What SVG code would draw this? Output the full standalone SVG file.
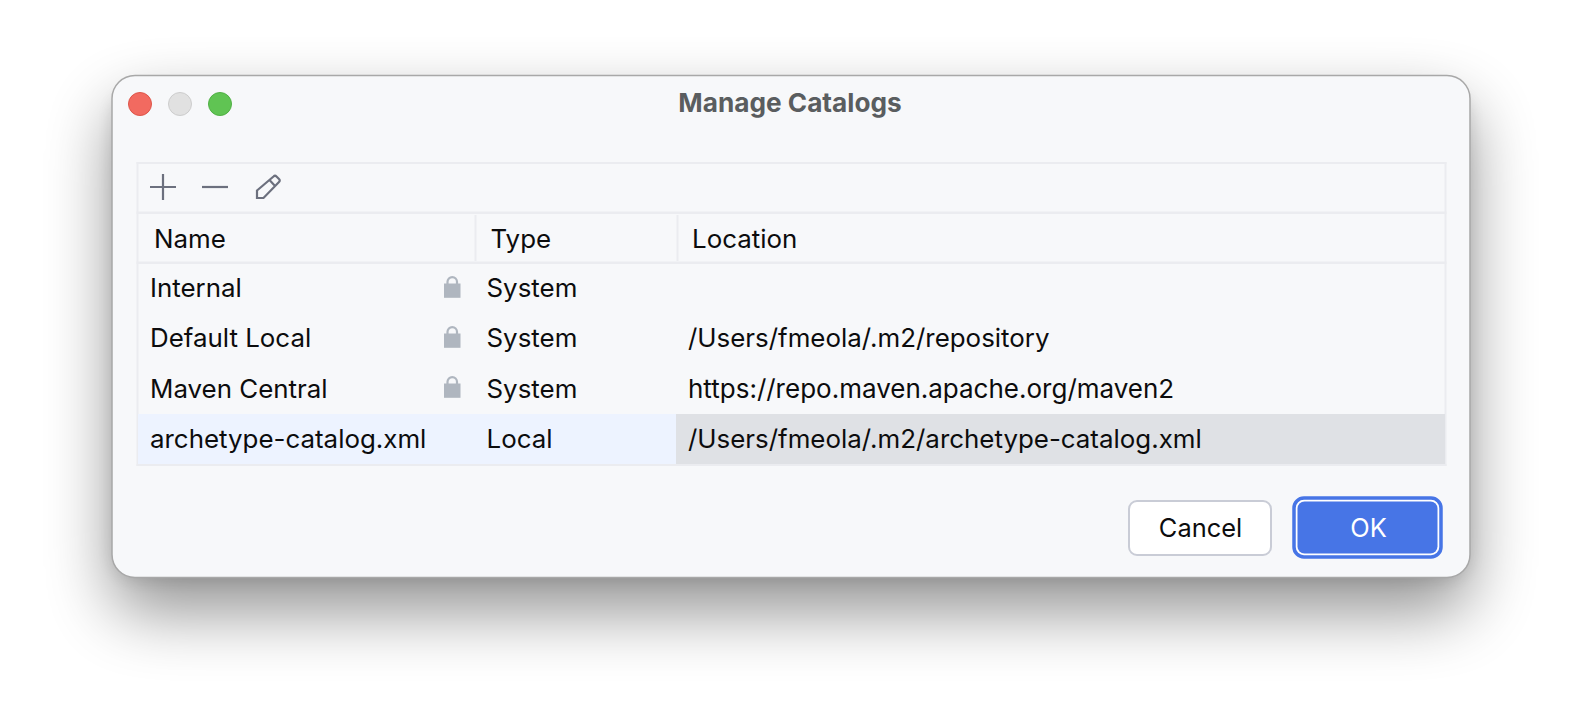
<svg xmlns="http://www.w3.org/2000/svg" width="1582" height="726" viewBox="0 0 1582 726">
<style>
text{font-family:Inter,"Liberation Sans",sans-serif;font-size:25.900px;fill:#0c0c0d}
.sep{fill:#ebecf0}
.ic{fill:none;stroke:#6c707e;stroke-width:2.200}
.lock{fill:#afb6bf}
.lk{fill:none;stroke:#afb6bf;stroke-width:2.200}
</style>
<defs>
<filter id="sh" x="-15%" y="-30%" width="130%" height="170%"><feGaussianBlur stdDeviation="33"/></filter>
<filter id="sh2" x="-5%" y="-10%" width="110%" height="120%"><feGaussianBlur stdDeviation="8"/></filter>
<g id="lockI"><path class="lk" d="M3.500 9V5.800a4.750 4.750 0 0 1 9.500 0V9"/><rect class="lock" x="0" y="7.500" width="16.500" height="14.300"/></g>
</defs>
<rect width="1582" height="726" fill="#ffffff"/>
<rect x="112" y="106" width="1358" height="506" rx="30" fill="#000" opacity=".42" filter="url(#sh)"/>
<rect x="112" y="90" width="1358" height="490" rx="24" fill="#000" opacity=".1" filter="url(#sh2)"/>
<g id="window">
<rect x="112" y="75.500" width="1358" height="502" rx="23" fill="#f7f8fa" stroke="#a8a8a8" stroke-width="1.500"/>
<circle cx="140" cy="104" r="11.500" fill="#f26a60" stroke="#de5549"/>
<circle cx="180" cy="104" r="11.500" fill="#e1e1e1" stroke="#cdcdcd"/>
<circle cx="220" cy="104" r="11.500" fill="#60c453" stroke="#50b044"/>
<text x="790" y="111.500" text-anchor="middle" style="font-weight:700;fill:#5a5d5f;font-size:26.200px">Manage Catalogs</text>
</g>
<g id="table">
<rect x="136.500" y="162" width="1310" height="2" class="sep"/>
<rect x="136.500" y="211.500" width="1310" height="2.500" class="sep"/>
<rect x="136.500" y="261.500" width="1310" height="2.500" class="sep"/>
<rect x="136.500" y="162" width="2" height="304" class="sep"/>
<rect x="1444.500" y="162" width="2" height="304" class="sep"/>
<rect x="474.500" y="215" width="2" height="46" class="sep"/>
<rect x="676.500" y="215" width="2" height="46" class="sep"/>
<rect x="138" y="414" width="538" height="50" fill="#edf3ff"/>
<rect x="676" y="414" width="769" height="50" fill="#dfe1e5"/>
<rect x="136.500" y="464" width="1310" height="2" class="sep"/>
</g>
<g id="toolbar">
<path class="ic" d="M150 187H176M163 174V200"/>
<path class="ic" d="M202 187H228"/>
<path class="ic" d="M257 190.500L273.500 176.500Q275 175 276.500 176.500L279 179Q280.500 180.500 279 182L263.500 198H257ZM269.500 180L275.500 186.500"/>
</g>
<g id="headers">
<text x="154" y="247.700">Name</text>
<text x="490.500" y="247.700">Type</text>
<text x="692" y="247.700">Location</text>
</g>
<g id="row1">
<text x="150" y="297.300">Internal</text>
<use href="#lockI" x="444" y="276"/>
<text x="486.500" y="297.300">System</text>
</g>
<g id="row2">
<text x="150" y="347.300">Default Local</text>
<use href="#lockI" x="444" y="326"/>
<text x="486.500" y="347.300">System</text>
<text x="688" y="347.300">/Users/fmeola/.m2/repository</text>
</g>
<g id="row3">
<text x="150" y="397.800">Maven Central</text>
<use href="#lockI" x="444" y="376"/>
<text x="486.500" y="397.800">System</text>
<text x="688" y="397.800" style="font-size:26px">https://repo.maven.apache.org/maven2</text>
</g>
<g id="row4">
<text x="150" y="448">archetype-catalog.xml</text>
<text x="486.500" y="448">Local</text>
<text x="688" y="448">/Users/fmeola/.m2/archetype-catalog.xml</text>
</g>
<g id="cancel">
<rect x="1129" y="501" width="142" height="54" rx="8" fill="#fff" stroke="#c9ccd6" stroke-width="2"/>
<text x="1200.500" y="537" text-anchor="middle" style="font-size:25.400px">Cancel</text>
</g>
<g id="ok">
<rect x="1294" y="498" width="147" height="59" rx="10" fill="#fff" stroke="#4775e6" stroke-width="3.500"/>
<rect x="1297.500" y="501.500" width="140" height="52" rx="7" fill="#4775e6"/>
<text x="1368.500" y="537" text-anchor="middle" style="fill:#fff;font-size:25.400px">OK</text>
</g>
<g id="connectors"/>
</svg>
